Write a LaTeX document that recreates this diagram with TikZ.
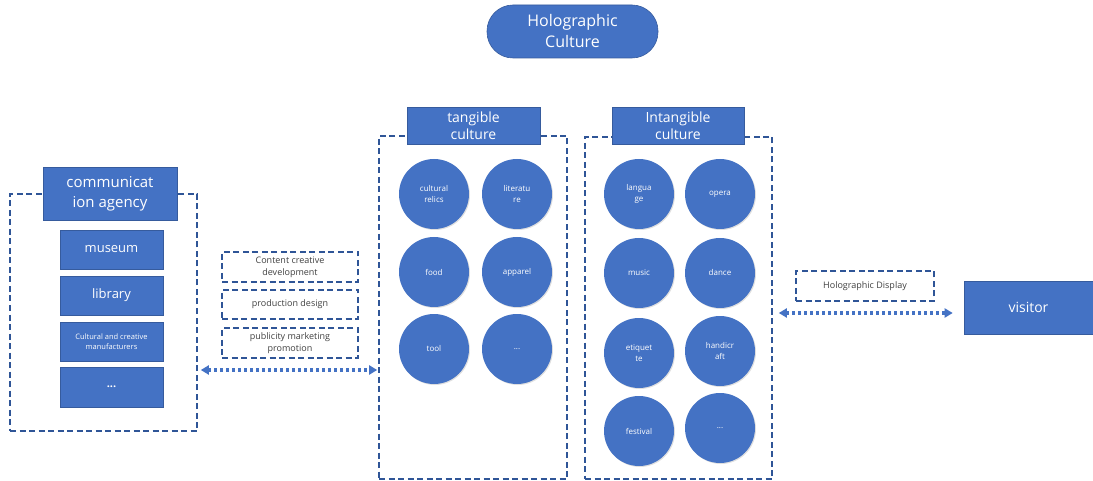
\documentclass[tikz,border=0pt]{standalone}
\usepackage{fontspec}
\setmainfont{Open Sans}
\usetikzlibrary{arrows.meta,shadows}
\definecolor{fillblue}{HTML}{4472C4}
\definecolor{edgeblue}{HTML}{2F5597}
\definecolor{darktext}{HTML}{404040}
\begin{document}
\begin{tikzpicture}[x=1pt,y=-1pt,
  bluebox/.style={draw=fillblue!80!black, line width=0.6pt, fill=fillblue, text=white,
    inner sep=0pt, align=center},
  frame/.style={draw=edgeblue, line width=1.6pt, dash pattern=on 6pt off 3.5pt, inner sep=0pt},
  notebox/.style={draw=edgeblue, line width=1.6pt, dash pattern=on 6pt off 3.5pt, inner sep=0pt,
    text=darktext, align=center, font=\fontsize{9}{12}\selectfont},
  bubble/.style={circle, fill=fillblue, text=white, minimum size=70pt, inner sep=0pt,
    align=center, font=\fontsize{8}{11}\selectfont,
    drop shadow={opacity=0.25, shadow xshift=1pt, shadow yshift=-1pt}},
  flow/.style={draw=fillblue, line width=3.2pt, dash pattern=on 3pt off 3pt,
    {Triangle[length=8pt,width=9pt]}-{Triangle[length=8pt,width=9pt]}}
]
\useasboundingbox (0,0) rectangle (1093,481);

% title
\node[bluebox, rounded corners=26pt, minimum width=171pt, minimum height=53pt,
  font=\fontsize{16}{21}\selectfont] (holo) at (572.5,31.5) {Holographic\\Culture};

% communication agency group
\node[frame, minimum width=187pt, minimum height=237pt] (agency) at (103.5,312.5) {};
\node[bluebox, minimum width=134pt, minimum height=53pt, font=\fontsize{15}{20}\selectfont]
  (agencyhead) at (110,193.5) {communicat\\ion agency};
\node[bluebox, minimum width=103pt, minimum height=39pt, font=\fontsize{13}{16}\selectfont]
  (museum) at (111.5,249.5) {museum};
\node[bluebox, minimum width=103pt, minimum height=39pt, font=\fontsize{13}{16}\selectfont]
  (library) at (111.5,295.5) {library};
\node[bluebox, minimum width=103pt, minimum height=39pt, font=\fontsize{7.5}{10}\selectfont]
  (makers) at (111.5,341.5) {Cultural and creative\\manufacturers};
\node[bluebox, minimum width=103pt, minimum height=40pt, font=\fontsize{11}{14}\selectfont]
  (more) at (111.5,387) {\textbf{...}};

% services
\node[notebox, minimum width=136pt, minimum height=30pt] (content) at (290,267)
  {Content creative\\development};
\node[notebox, minimum width=136pt, minimum height=29pt] (design) at (290,304.5)
  {production design};
\node[notebox, minimum width=136pt, minimum height=30pt] (promo) at (290,343)
  {publicity marketing\\promotion};

% tangible culture
\node[frame, minimum width=188pt, minimum height=343pt] (tangible) at (473,307.5) {};
\node[bluebox, minimum width=133pt, minimum height=37pt, font=\fontsize{14}{17}\selectfont]
  (tanghead) at (473.5,125.5) {tangible\\culture};
\node[bubble] (relics) at (434,194) {cultural\\relics};
\node[bubble] (lit) at (517,194) {literatu\\re};
\node[bubble] (food) at (434,272) {food};
\node[bubble] (apparel) at (517,272) {apparel};
\node[bubble] (tool) at (434,349) {tool};
\node[bubble] (tmore) at (517,349) {...};

% intangible culture
\node[frame, minimum width=187pt, minimum height=342pt] (intangible) at (678.5,308) {};
\node[bluebox, minimum width=132pt, minimum height=37pt, font=\fontsize{14}{17}\selectfont]
  (intanghead) at (678,125.5) {Intangible\\culture};
\node[bubble] (lang) at (639,194) {langua\\ge};
\node[bubble] (opera) at (720,194) {opera};
\node[bubble] (music) at (639,273) {music};
\node[bubble] (dance) at (720,273) {dance};
\node[bubble] (etiq) at (639,353) {etiquet\\te};
\node[bubble] (craft) at (720,351) {handicr\\aft};
\node[bubble] (fest) at (639,431) {festival};
\node[bubble] (imore) at (720,428) {...};

% display and visitor
\node[notebox, minimum width=138pt, minimum height=30pt] (display) at (865,286)
  {Holographic Display};
\node[bluebox, minimum width=129pt, minimum height=53pt, font=\fontsize{14}{17}\selectfont]
  (visitor) at (1028.5,307.5) {visitor};

% flows
\path (agency.east) ++(0,57.5) coordinate (leftflow);
\draw[flow, shorten <=3pt, shorten >=1pt] (leftflow) -- (leftflow -| tangible.west);
\path (intangible.east) ++(0,5) coordinate (rightflow);
\draw[flow, shorten <=6pt, shorten >=11pt] (rightflow) -- (rightflow -| visitor.west);
\end{tikzpicture}
\end{document}
